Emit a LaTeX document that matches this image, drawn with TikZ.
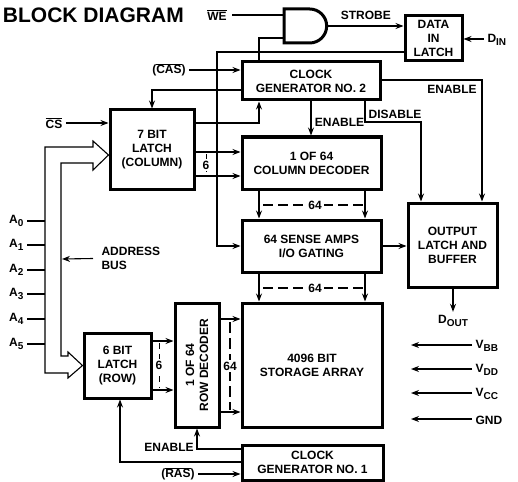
\documentclass[tikz,border=0pt]{standalone}
\usepackage{fontspec}
\setmainfont{Liberation Sans}
\usetikzlibrary{arrows.meta,shapes.gates.logic.US}
\newcommand{\lowtxt}[1]{\raisebox{-3pt}{\fontsize{10}{10}\selectfont #1}}
\newcommand{\barred}[1]{$\overline{\hbox{#1}}$}
\tikzset{
    box/.style={draw,line width=3pt,align=center},
    sig/.style={->,line width=1.1pt},
    wire/.style={line width=1.1pt},
    count/.style={fill=white,inner sep=2pt}
}
\begin{document}
\begin{tikzpicture}[x=1pt,y=-1pt,>={Stealth[length=8pt,width=6pt]},
    every node/.style={font=\fontsize{12}{14}\selectfont\bfseries}]
    \useasboundingbox (0,0) rectangle (518,481);
    % Title
    \node[anchor=east,inner sep=0pt,font=\fontsize{21}{24}\selectfont\bfseries] (title) at (184,15) {BLOCK DIAGRAM};

    % Main blocks
    \node[box,minimum width=138,minimum height=38] (cgtwo) at (311,81) {CLOCK\\GENERATOR NO. 2};
    \node[box,minimum width=139,minimum height=52] (coldec) at (311.5,163) {1 OF 64\\COLUMN DECODER};
    \node[box,minimum width=139,minimum height=52] (sense) at (311.5,246) {64 SENSE AMPS\\I/O GATING};
    \node[box,minimum width=140,minimum height=124] (array) at (312,365) {4096 BIT\\STORAGE ARRAY};
    \node[box,minimum width=141,minimum height=35] (cgone) at (312.5,462.5) {CLOCK\\GENERATOR NO. 1};
    \node[box,minimum width=84,minimum height=79] (latchcol) at (152,149.5) {7 BIT\\LATCH\\(COLUMN)};
    \node[box,minimum width=67,minimum height=65] (latchrow) at (117.5,365.5) {6 BIT\\LATCH\\(ROW)};
    \node[box,minimum width=44,minimum height=124] (rowdec) at (197,365) {};
    \node[rotate=90,align=center] (rowtext) at (rowdec) {1 OF 64\\ROW DECODER};
    \node[box,minimum width=57,minimum height=45] (datain) at (433.5,38.5) {DATA\\IN\\LATCH};
    \node[box,minimum width=89,minimum height=84] (outlatch) at (452.5,245) {OUTPUT\\LATCH AND\\BUFFER};

    % Gate and the lines round it
    \node[and gate US,draw,logic gate inputs=nn,line width=3pt,minimum width=41,minimum height=34] (andgate) at (304,26) {};
    \node (we) at (217,15) {\barred{WE}};
    \draw[wire] (we.east) ++(2,0) -- (andgate.west |- we.east);
    \draw[wire] (andgate.west |- 0,38) -| (cgtwo.north -| 259,0);
    \draw[sig] (andgate.east) -- (datain.west |- andgate.east) node[midway,above=2pt] (strobe) {STROBE};
    \draw[wire] (datain.west |- 0,52) -| (217,100);
    \draw[sig] (217,100) |- (sense.west);
    \node[anchor=west] (din) at (484,40) {D\lowtxt{IN}};
    \draw[sig] (din.west |- 0,39) -- (datain.east |- 0,39);

    % Clock generator 2
    \node (cas) at (169,70) {(\barred{CAS})};
    \draw[sig] (cas.east |- 0,70) -- (cgtwo.west |- 0,70);
    \draw[sig] (cgtwo.west |- 0,90) -| (latchcol.north);
    \draw[sig] (latchcol.east |- 0,123) -| (cgtwo.south -| 259,0);
    \draw[sig] (cgtwo.south) -- (coldec.north -| cgtwo.south) node[pos=.6,right=0pt] (encol) {ENABLE};
    \draw[sig] (cgtwo.south -| 365,0) |- (421,122) -- (outlatch.north -| 421,0);
    \node (disable) at (395,114) {DISABLE};
    \draw[sig] (cgtwo.east |- 0,80) -| (outlatch.north -| 482,0);
    \node (enout) at (452,89) {ENABLE};

    % Column side
    \node (cs) at (54,123) {\barred{CS}};
    \draw[sig] (cs.east |- 0,123) -- (latchcol.west |- 0,123);
    \foreach \y in {152,176}
    \draw[sig] (latchcol.east |- 0,\y) -- (coldec.west |- 0,\y);
    \draw[wire,line width=.8pt,dash pattern=on 6pt off 6pt] (206,154) -- (206,176) node[midway,count] (sixcol) {6};

    % Between the stacked blocks
    \foreach \x in {259,365} {
    \draw[sig] (coldec.south -| \x,0) -- (sense.north -| \x,0);
    \draw[sig] (sense.south -| \x,0) -- (array.north -| \x,0);
    }
    \draw[wire,dash pattern=on 10pt off 5pt] (263,205) -- (363,205) node[pos=.52,count] (bitsa) {64};
    \draw[wire,dash pattern=on 10pt off 5pt] (263,288) -- (363,288) node[pos=.52,count] (bitsb) {64};
    \draw[sig] (sense.east) -- (outlatch.west |- sense.east);
    \node (dout) at (453,321) {D\lowtxt{OUT}};
    \draw[sig] (outlatch.south -| 453,0) -- (dout.north);

    % Address bus
    \draw[wire] (45,373) -- (45,147) -- (93,147) -- (93,141) -- (latchcol.west |- 0,155) -- (93,170) -- (93,163) -- (61,163) -- (61,356) -- (68,356) -- (68,352) -- (latchrow.west) -- (68,378) -- (68,373) -- cycle;
    \foreach \n/\y in {0/221,1/245,2/270,3/294,4/319,5/344} {
    \node[anchor=east] (a\n) at (27,\y) {A\lowtxt{\n}};
    \draw[wire] (a\n.east |- 0,\y) -- (45,\y);
    }
    \node[anchor=west,align=left] (addr) at (98,258.5) {ADDRESS\\BUS};
    \coordinate (busin) at (62,259);
    \draw[sig] ([xshift=-5pt]addr.west) -- (busin);

    % Row side
    \foreach \y in {341,390}
    \draw[sig] (latchrow.east |- 0,\y) -- (rowdec.west |- 0,\y);
    \draw[wire,line width=.8pt,dash pattern=on 6pt off 5pt] (159,343) -- (159,388) node[midway,count] (sixrow) {6};
    \foreach \y in {319,412}
    \draw[sig] (rowdec.east |- 0,\y) -- (array.west |- 0,\y);
    \draw[wire,dash pattern=on 11pt off 5pt] (230,322) -- (230,410) node[midway,count] (bitsc) {64};

    % Clock generator 1
    \draw[sig] (cgone.west |- 0,449) -| (rowdec.south);
    \node (enrow) at (169,447) {ENABLE};
    \draw[sig] (cgone.west |- 0,462) -| (latchrow.south -| 120,0);
    \node (ras) at (178,474) {(\barred{RAS})};
    \draw[sig] (ras.east |- 0,474) -- (cgone.west |- 0,474);

    % Supply pins
    \foreach \n/\t/\y in {vbb/V\lowtxt{BB}/345,vdd/V\lowtxt{DD}/369,vcc/V\lowtxt{CC}/393,gnd/GND/419} {
    \node[anchor=west] (\n) at (472,\y+1) {\t};
    \coordinate (\n end) at (411,\y);
    \draw[sig] (\n.west |- 0,\y) -- (\n end);
    }
\end{tikzpicture}
\end{document}
